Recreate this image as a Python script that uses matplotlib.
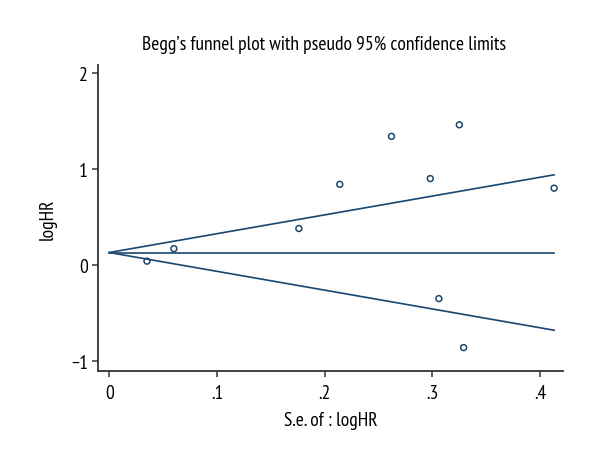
import matplotlib
matplotlib.use("Agg")
import matplotlib.pyplot as plt
import numpy as np

# Study standard errors and log hazard ratios
se_vals = [0.035, 0.060, 0.176, 0.214, 0.262, 0.298, 0.306, 0.325, 0.329, 0.413]
loghr_vals = [0.04, 0.17, 0.38, 0.84, 1.34, 0.90, -0.35, 1.46, -0.86, 0.80]
pooled = 0.13

x_ticks = [0, 0.1, 0.2, 0.3, 0.4]
x_tick_labels = ["0", ".1", ".2", ".3", ".4"]
y_ticks = [-1, 0, 1, 2]
y_tick_labels = ["\u22121", "0", "1", "2"]

navy = "#1a476f"
axis_col = "#333333"

plt.rcParams["font.family"] = ["PT Sans Narrow", "Liberation Sans Narrow", "DejaVu Sans"]

fig = plt.figure(figsize=(6, 4.6), dpi=100)
ax = fig.add_axes([0.1638, 0.1907, 0.775, 0.6658])

# pseudo 95% confidence limits
se_line = np.array([0, max(se_vals)])
ax.plot(se_line, pooled + 1.96 * se_line, color=navy, lw=1.2)
ax.plot(se_line, pooled - 1.96 * se_line, color=navy, lw=1.2)
ax.plot(se_line, [pooled, pooled], color=navy, lw=1.2)

ax.scatter(se_vals, loghr_vals, s=18, facecolors="none", edgecolors=navy,
           linewidths=1.1, zorder=3)

ax.set_xlim(-0.0102, 0.4215)
ax.set_ylim(-1.107, 2.083)
ax.set_xticks(x_ticks)
ax.set_xticklabels(x_tick_labels)
ax.set_yticks(y_ticks)
ax.set_yticklabels(y_tick_labels)

for side in ["top", "right"]:
    ax.spines[side].set_visible(False)
for side in ["left", "bottom"]:
    ax.spines[side].set_color(axis_col)
    ax.spines[side].set_linewidth(1.3)
ax.tick_params(axis="both", colors=axis_col, labelcolor="black",
               labelsize=14, length=4.5, width=1.1)
ax.tick_params(axis="x", pad=5)
ax.tick_params(axis="y", pad=3)

ax.set_xlabel("S.e. of : logHR", fontsize=14, labelpad=6)
ax.set_ylabel("logHR", fontsize=14, labelpad=10)
fig.text(0.54, 0.902, "Begg\u2019s funnel plot with pseudo 95% confidence limits",
         ha="center", va="center", fontsize=14)

fig.savefig("out.png", dpi=100)
